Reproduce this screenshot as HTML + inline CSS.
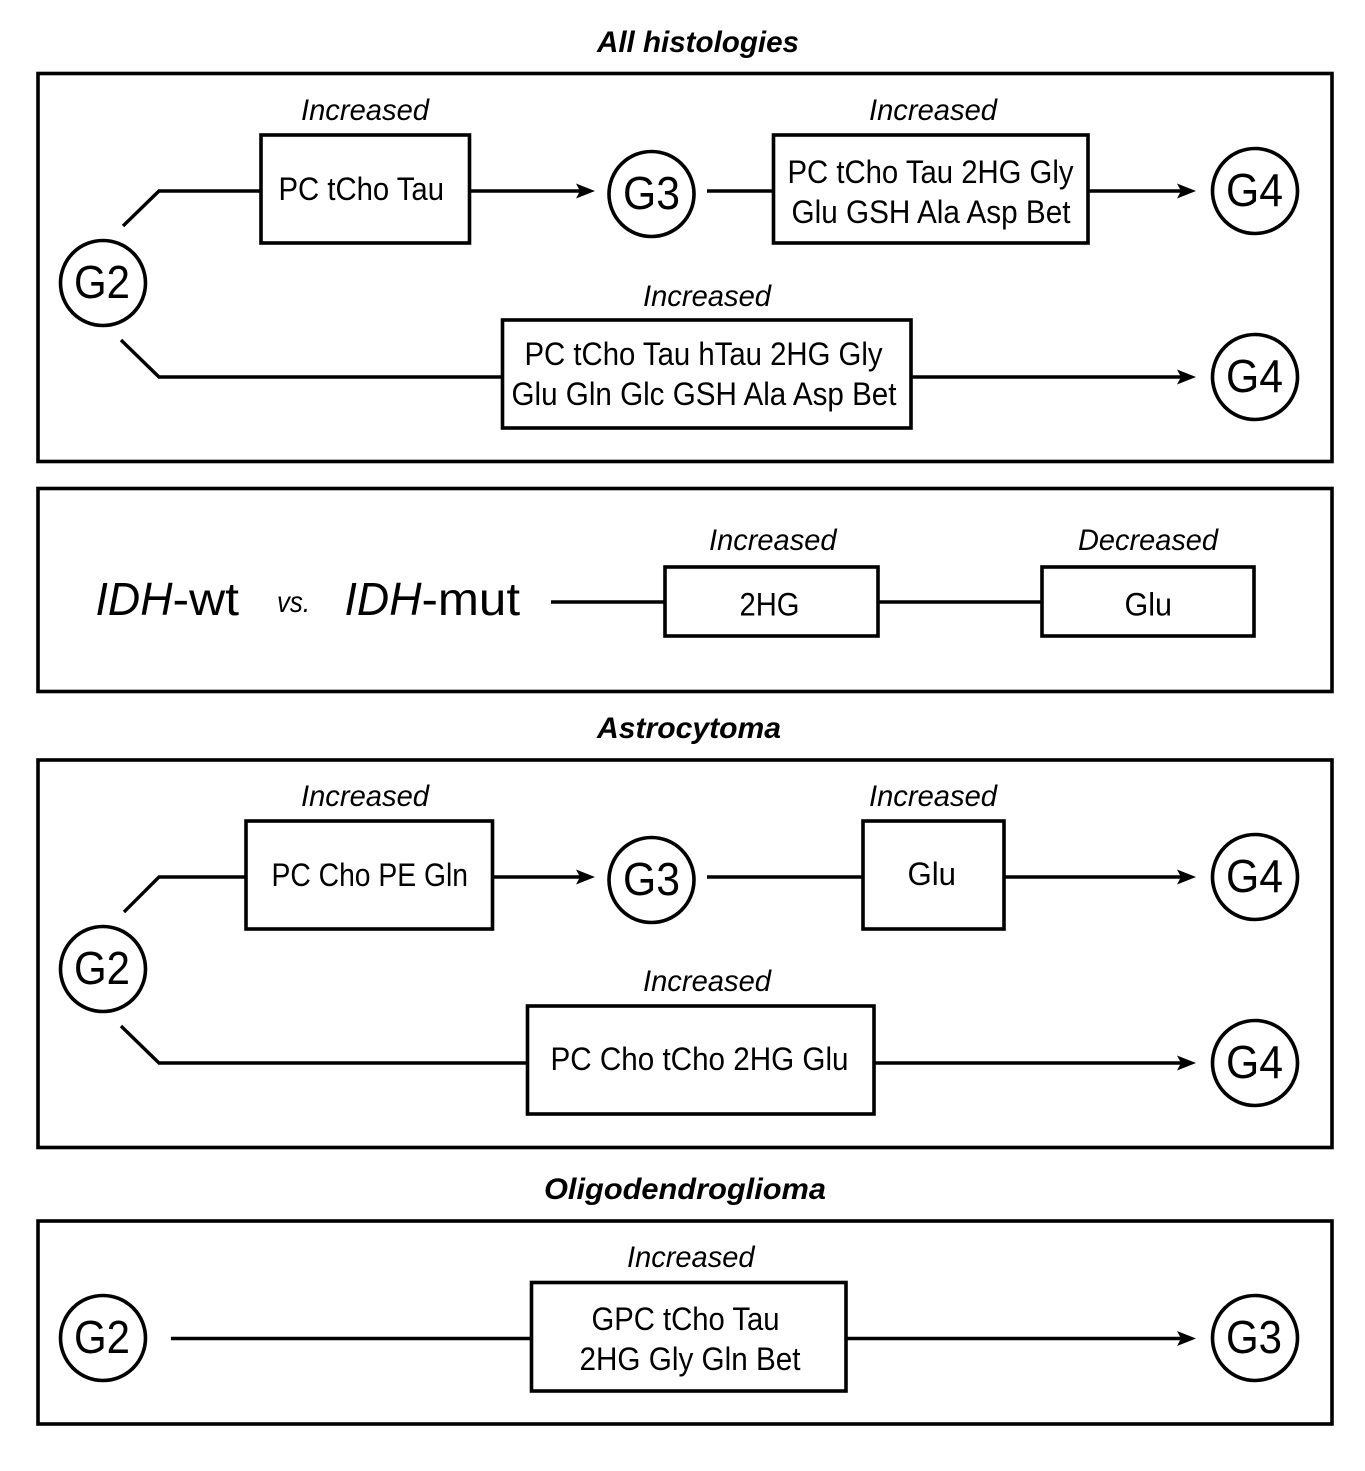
<!DOCTYPE html>
<html><head><meta charset="utf-8"><style>
html,body{margin:0;padding:0;background:#fff}
svg{display:block}
text{font-family:"Liberation Sans",sans-serif;fill:#000}
.t{font-size:32px}
.i{font-size:30px;font-style:italic}
.h{font-size:30px;font-style:italic;font-weight:bold}
.g{font-size:46px}
.f{fill:none;stroke:#000;stroke-width:3.6}
.b{fill:#fff;stroke:#000;stroke-width:3.6}
.c{fill:#fff;stroke:#000;stroke-width:3.6}
.l{fill:none;stroke:#000;stroke-width:3.4}
</style></head><body>
<svg width="1365" height="1471" viewBox="0 0 1365 1471" xmlns="http://www.w3.org/2000/svg">
<rect width="1365" height="1471" fill="#fff"/>

<!-- Panel frames -->
<rect class="f" x="38" y="73.5" width="1294" height="388"/>
<rect class="f" x="38" y="488.5" width="1294" height="203"/>
<rect class="f" x="38" y="760" width="1294" height="387.5"/>
<rect class="f" x="38" y="1221" width="1294" height="203"/>

<!-- Titles -->
<text class="h" x="597" y="52" textLength="202" lengthAdjust="spacingAndGlyphs">All histologies</text>
<text class="h" x="597" y="738" textLength="184" lengthAdjust="spacingAndGlyphs">Astrocytoma</text>
<text class="h" x="544" y="1199" textLength="282" lengthAdjust="spacingAndGlyphs">Oligodendroglioma</text>

<!-- Panel 1 connectors -->
<path class="l" d="M123 226 L159 191 H261"/>
<path class="l" d="M470 191 H582"/>
<path class="l" d="M707 191 H773"/>
<path class="l" d="M1088 191 H1182"/>
<path class="l" d="M121 340 L159 377 H502"/>
<path class="l" d="M912 377 H1182"/>
<polygon points="595,191 576,183.5 580,191 576,198.5"/>
<polygon points="1196,191 1177,183.5 1181,191 1177,198.5"/>
<polygon points="1196,377 1177,369.5 1181,377 1177,384.5"/>

<rect class="b" x="261" y="135" width="208.500" height="108"/>
<rect class="b" x="773.500" y="135" width="314.500" height="108"/>
<rect class="b" x="502.500" y="320" width="408.500" height="108"/>
<circle class="c" cx="103" cy="283" r="42.500"/>
<circle class="c" cx="651.500" cy="194" r="42.500"/>
<circle class="c" cx="1255" cy="191" r="42.500"/>
<circle class="c" cx="1255" cy="377" r="42.500"/>

<text class="g" x="74" y="298" textLength="56" lengthAdjust="spacingAndGlyphs">G2</text>
<text class="g" x="623" y="209" textLength="57" lengthAdjust="spacingAndGlyphs">G3</text>
<text class="g" x="1226" y="206" textLength="57" lengthAdjust="spacingAndGlyphs">G4</text>
<text class="g" x="1226" y="392" textLength="57" lengthAdjust="spacingAndGlyphs">G4</text>

<text class="i" x="301" y="120" textLength="128" lengthAdjust="spacingAndGlyphs">Increased</text>
<text class="i" x="869" y="120" textLength="128" lengthAdjust="spacingAndGlyphs">Increased</text>
<text class="i" x="643" y="306" textLength="128" lengthAdjust="spacingAndGlyphs">Increased</text>
<text class="t" x="278.500" y="200" textLength="165.500" lengthAdjust="spacingAndGlyphs">PC tCho Tau</text>
<text class="t" x="787.500" y="183" textLength="286" lengthAdjust="spacingAndGlyphs">PC tCho Tau 2HG Gly</text>
<text class="t" x="791.500" y="223" textLength="279" lengthAdjust="spacingAndGlyphs">Glu GSH Ala Asp Bet</text>
<text class="t" x="524.500" y="365" textLength="358" lengthAdjust="spacingAndGlyphs">PC tCho Tau hTau 2HG Gly</text>
<text class="t" x="511.500" y="405" textLength="385" lengthAdjust="spacingAndGlyphs">Glu Gln Glc GSH Ala Asp Bet</text>

<!-- Panel 2 -->
<path class="l" d="M551 602 H665 M878 602 H1042"/>
<rect class="b" x="665" y="567" width="213" height="69"/>
<rect class="b" x="1042" y="567" width="212" height="69"/>
<text class="g" font-style="italic" x="95.500" y="615" textLength="77" lengthAdjust="spacingAndGlyphs">IDH</text>
<text class="g" x="172.500" y="615" textLength="66.500" lengthAdjust="spacingAndGlyphs">-wt</text>
<text class="i" x="277" y="612" textLength="33" lengthAdjust="spacingAndGlyphs">vs.</text>
<text class="g" font-style="italic" x="344.500" y="615" textLength="77" lengthAdjust="spacingAndGlyphs">IDH</text>
<text class="g" x="421.500" y="615" textLength="98.500" lengthAdjust="spacingAndGlyphs">-mut</text>
<text class="i" x="709" y="550" textLength="127.500" lengthAdjust="spacingAndGlyphs">Increased</text>
<text class="i" x="1078" y="550" textLength="140" lengthAdjust="spacingAndGlyphs">Decreased</text>
<text class="t" x="739.500" y="615.500" textLength="60" lengthAdjust="spacingAndGlyphs">2HG</text>
<text class="t" x="1124.500" y="615.500" textLength="47.500" lengthAdjust="spacingAndGlyphs">Glu</text>

<!-- Panel 3 connectors -->
<path class="l" d="M124 912 L159 877 H246"/>
<path class="l" d="M493 877 H582"/>
<path class="l" d="M707 877 H863"/>
<path class="l" d="M1004 877 H1182"/>
<path class="l" d="M121 1026 L159 1063 H527"/>
<path class="l" d="M874 1063 H1182"/>
<polygon points="595,877 576,869.500 580,877 576,884.500"/>
<polygon points="1196,877 1177,869.500 1181,877 1177,884.500"/>
<polygon points="1196,1063 1177,1055.500 1181,1063 1177,1070.500"/>

<rect class="b" x="246" y="821" width="246.500" height="108"/>
<rect class="b" x="863" y="821" width="141" height="108"/>
<rect class="b" x="527.500" y="1006" width="346.500" height="108"/>
<circle class="c" cx="103" cy="969" r="42.500"/>
<circle class="c" cx="651.500" cy="880" r="42.500"/>
<circle class="c" cx="1255" cy="877" r="42.500"/>
<circle class="c" cx="1255" cy="1063" r="42.500"/>

<text class="g" x="74" y="984" textLength="56" lengthAdjust="spacingAndGlyphs">G2</text>
<text class="g" x="623" y="895" textLength="57" lengthAdjust="spacingAndGlyphs">G3</text>
<text class="g" x="1226" y="892" textLength="57" lengthAdjust="spacingAndGlyphs">G4</text>
<text class="g" x="1226" y="1078" textLength="57" lengthAdjust="spacingAndGlyphs">G4</text>

<text class="i" x="301" y="806" textLength="128" lengthAdjust="spacingAndGlyphs">Increased</text>
<text class="i" x="869" y="806" textLength="128" lengthAdjust="spacingAndGlyphs">Increased</text>
<text class="i" x="643" y="991" textLength="128" lengthAdjust="spacingAndGlyphs">Increased</text>
<text class="t" x="271.500" y="886" textLength="196.500" lengthAdjust="spacingAndGlyphs">PC Cho PE Gln</text>
<text class="t" x="907.500" y="885" textLength="48.500" lengthAdjust="spacingAndGlyphs">Glu</text>
<text class="t" x="550.500" y="1070" textLength="298" lengthAdjust="spacingAndGlyphs">PC Cho tCho 2HG Glu</text>

<!-- Panel 4 -->
<path class="l" d="M171 1338.500 H531 M846 1338.500 H1182"/>
<polygon points="1196,1338.500 1177,1331 1181,1338.500 1177,1346"/>
<rect class="b" x="531.500" y="1282.500" width="314.500" height="108.500"/>
<circle class="c" cx="103" cy="1338" r="42.500"/>
<circle class="c" cx="1255" cy="1338" r="42.500"/>
<text class="g" x="74" y="1353" textLength="56" lengthAdjust="spacingAndGlyphs">G2</text>
<text class="g" x="1226" y="1353" textLength="56" lengthAdjust="spacingAndGlyphs">G3</text>
<text class="i" x="627" y="1267" textLength="127.500" lengthAdjust="spacingAndGlyphs">Increased</text>
<text class="t" x="591.500" y="1330" textLength="188" lengthAdjust="spacingAndGlyphs">GPC tCho Tau</text>
<text class="t" x="579.500" y="1370" textLength="221" lengthAdjust="spacingAndGlyphs">2HG Gly Gln Bet</text>
</svg>
</body></html>
